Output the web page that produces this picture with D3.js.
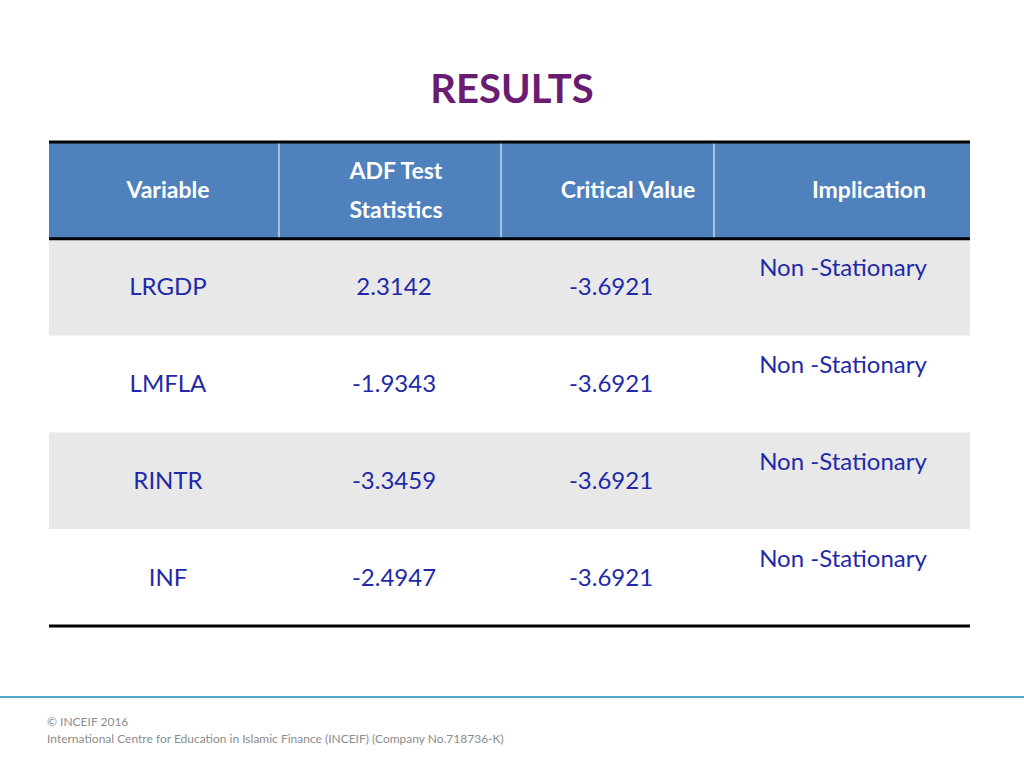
<!DOCTYPE html>
<html><head><meta charset="utf-8">
<script src="https://cdn.jsdelivr.net/npm/d3@7"></script>
<style>body{margin:0;background:#fff}svg{display:block}</style>
</head><body>
<script>
const headers = [["Variable"], ["ADF Test", "Statistics"], ["Critical Value"], ["Implication"]];
const variables = ["LRGDP", "LMFLA", "RINTR", "INF"];
const adfStats = ["2.3142", "-1.9343", "-3.3459", "-2.4947"];
const criticalValues = ["-3.6921", "-3.6921", "-3.6921", "-3.6921"];
const implications = ["Non -Stationary", "Non -Stationary", "Non -Stationary", "Non -Stationary"];
const title = "RESULTS";
const footer = ["© INCEIF 2016", "International Centre for Education in Islamic Finance (INCEIF) (Company No.718736-K)"];

const W = 1024, H = 768, font = "Lato, 'Open Sans', sans-serif";
const svg = d3.select("body").append("svg").attr("width", W).attr("height", H);

const colEdge = d3.scaleLinear().domain([0,1,2,3,4]).range([49,279,501,714,970]);
const rowY = d3.scaleBand().domain(["h", ...variables]).range([142, 626]);

svg.append("text").attr("x", 512).attr("y", 103).attr("text-anchor", "middle")
  .attr("font-family", font).attr("font-weight", 700).attr("font-size", 40)
  .attr("fill", "#6a1b72").text(title);

// header
svg.append("rect").attr("x", colEdge(0)).attr("y", rowY("h")).attr("width", colEdge(4)-colEdge(0))
  .attr("height", rowY.bandwidth()).attr("fill", "#4f81bd");
variables.forEach((v, i) => {
  svg.append("rect").attr("x", colEdge(0)).attr("y", rowY(v)).attr("width", colEdge(4)-colEdge(0))
    .attr("height", rowY.bandwidth()).attr("fill", i % 2 === 0 ? "#e8e8e8" : "#ffffff");
});
[1,2,3].forEach(c => svg.append("line").attr("x1", colEdge(c)).attr("x2", colEdge(c))
  .attr("y1", rowY("h")).attr("y2", rowY("h")+rowY.bandwidth()).attr("stroke", "#fff").attr("stroke-width", 1));

const hcx = [168, 396, 628, 869];
headers.forEach((h, c) => {
  const cy = rowY("h") + rowY.bandwidth()/2;
  h.forEach((line, k) => {
    svg.append("text").attr("x", hcx[c]).attr("y", cy + (k - (h.length-1)/2)*39 + 8)
      .attr("text-anchor", "middle").attr("font-family", font).attr("font-weight", 700)
      .attr("font-size", 23).attr("fill", "#fff").text(line);
  });
});

const dcx = [168, 394, 611, 843];
variables.forEach((v, i) => {
  const cy = rowY(v) + rowY.bandwidth()/2;
  const vals = [v, adfStats[i], criticalValues[i]];
  vals.forEach((t, c) => svg.append("text").attr("x", dcx[c]).attr("y", cy + 8)
    .attr("text-anchor", "middle").attr("font-family", font).attr("font-size", 24)
    .attr("fill", "#1f2aa8").text(t));
  svg.append("text").attr("x", dcx[3]).attr("y", cy - 11).attr("text-anchor", "middle")
    .attr("font-family", font).attr("font-size", 24).attr("fill", "#1f2aa8").text(implications[i]);
});

[rowY("h"), rowY(variables[0]), 626].forEach(y => svg.append("line").attr("x1", colEdge(0)).attr("x2", colEdge(4))
  .attr("y1", y).attr("y2", y).attr("stroke", "#000").attr("stroke-width", 3));

svg.append("line").attr("x1", 0).attr("x2", W).attr("y1", 697).attr("y2", 697)
  .attr("stroke", "#4bacc6").attr("stroke-width", 2);
footer.forEach((t, k) => svg.append("text").attr("x", 47).attr("y", 726 + k*17)
  .attr("font-family", font).attr("font-size", 12).attr("fill", "#8c8c8c").text(t));
</script>
</body></html>
